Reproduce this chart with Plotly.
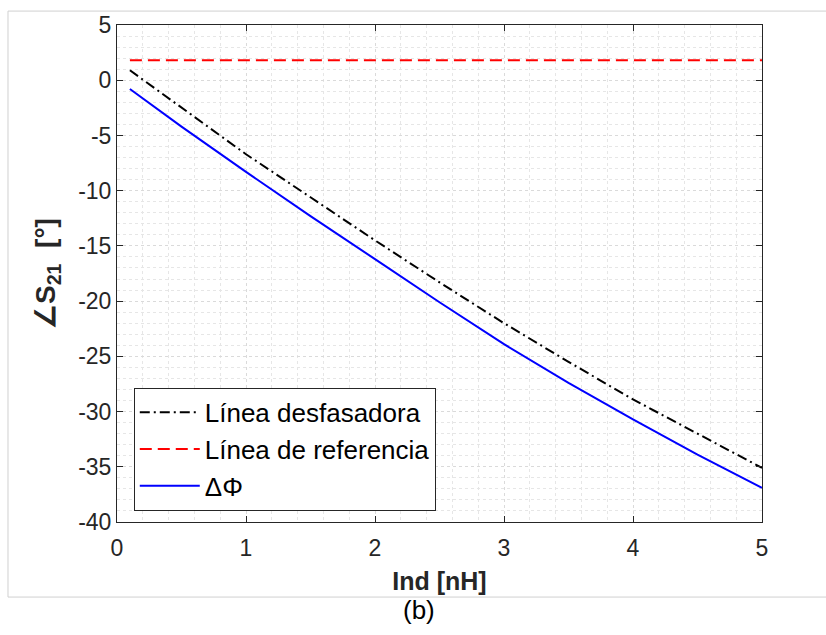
import plotly.graph_objects as go

# Data
ind_nh = [0.1, 0.5, 1.0, 1.5, 2.0, 2.5, 3.0, 3.5, 4.0, 4.5, 5.0]
fase_desfasadora = [0.9, -2.5, -6.7, -10.6, -14.5, -18.3, -22.0, -25.5, -28.9, -32.0, -35.1]
fase_referencia = [1.8, 1.8, 1.8, 1.8, 1.8, 1.8, 1.8, 1.8, 1.8, 1.8, 1.8]
delta_phi = [-0.8, -4.2, -8.3, -12.3, -16.2, -20.1, -23.9, -27.4, -30.7, -33.9, -36.9]

x_ticks = [0, 1, 2, 3, 4, 5]
y_ticks = [5, 0, -5, -10, -15, -20, -25, -30, -35, -40]
y_ticktext = ["5", "0", "-5", "-10", "-15", "-20", "-25", "-30", "-35", "-40"]

FONT = "Arial"
AX = "#262626"

fig = go.Figure()
fig.add_trace(go.Scatter(x=ind_nh, y=fase_desfasadora, mode="lines",
                         name="Línea desfasadora", legendgroup="a",
                         line=dict(color="black", width=2, dash="10px,4px,2px,4px")))
fig.add_trace(go.Scatter(x=ind_nh, y=fase_referencia, mode="lines",
                         name="Línea de referencia", legendgroup="b",
                         line=dict(color="#ff0000", width=2, dash="12px,6px")))
fig.add_trace(go.Scatter(x=ind_nh, y=delta_phi, mode="lines",
                         name="ΔΦ", legendgroup="c",
                         line=dict(color="#0000ff", width=2)))

grid = dict(showgrid=True, gridcolor="#dadada", griddash="dot", gridwidth=1)

fig.update_xaxes(range=[0, 5], tickvals=x_ticks, ticks="inside", ticklen=6,
                 tickcolor=AX, showline=True, linecolor=AX, linewidth=1,
                 mirror="ticks", zeroline=False, ticklabelstandoff=5,
                 tickfont=dict(family=FONT, size=23, color=AX),
                 minor=dict(dtick=0.2, showgrid=True, gridcolor="#e6e6e6",
                            griddash="dot", ticks=""),
                 title=dict(text="<b>Ind [nH]</b>", standoff=12,
                            font=dict(family=FONT, size=25, color=AX)),
                 **grid)
fig.update_yaxes(range=[-40, 5], tickvals=y_ticks, ticktext=y_ticktext,
                 ticks="inside", ticklen=6, tickcolor=AX, showline=True,
                 linecolor=AX, linewidth=1, mirror="ticks", zeroline=False,
                 tickfont=dict(family=FONT, size=23, color=AX),
                 minor=dict(dtick=1, showgrid=True, gridcolor="#e6e6e6",
                            griddash="dot", ticks=""),
                 title=dict(text="<b>∠S<sub>21</sub>  [°]</b>", standoff=14,
                            font=dict(family=FONT, size=28, color=AX)),
                 **grid)

fig.update_layout(
    width=826, height=635,
    margin=dict(l=117, r=64, t=19, b=113),
    plot_bgcolor="white", paper_bgcolor="white",
    font=dict(family=FONT, size=23),
    showlegend=True,
    legend=dict(x=0.026, y=0.27, xanchor="left", yanchor="top",
                bgcolor="white", bordercolor="#262626", borderwidth=1,
                font=dict(family=FONT, size=26, color="black"),
                tracegroupgap=0, itemwidth=60),
    shapes=[dict(type="rect", xref="paper", yref="paper",
                 x0=-0.169, x1=1.11, y0=-0.151, y1=1.028,
                 line=dict(color="#d0d0d0", width=1), layer="below")],
    annotations=[dict(text="(b)", xref="paper", yref="paper", x=0.468, y=-0.178,
                      xanchor="center", yanchor="middle", showarrow=False,
                      font=dict(family=FONT, size=26, color="black"))],
)

fig.write_html("out.html")
